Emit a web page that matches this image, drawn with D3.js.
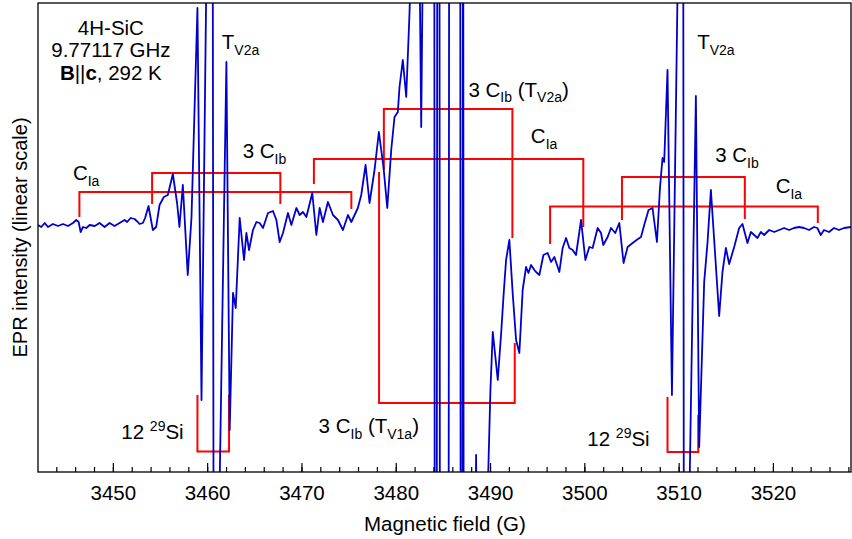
<!DOCTYPE html>
<html>
<head>
<meta charset="utf-8">
<script src="https://cdn.jsdelivr.net/npm/d3@7"></script>
<style>
  html, body { margin: 0; padding: 0; background: #fff; }
  svg { display: block; font-family: "Liberation Sans", Arial, sans-serif; }
</style>
</head>
<body>
<svg id="chart" width="852" height="539"></svg>
<script>
// EPR spectrum, 4H-SiC. Field in gauss, signal in arbitrary units (linear).
// Values beyond +-246 are off scale and get clipped, as in the original.
const spectrum = [
  [3442.06, 1], [3442.41, -1], [3442.77, 3], [3443.12, -1], [3443.65, 2], [3444.18, 0],
  [3444.71, 2], [3445.24, 0], [3445.77, 3], [3446.12, 6], [3446.37, 4], [3446.58, -6],
  [3446.83, -1], [3447.18, -2], [3447.54, 1], [3448.07, 0], [3448.59, 3], [3449.12, -1],
  [3449.65, 3], [3450.18, 0], [3450.71, 3], [3451.24, 6], [3451.51, 4], [3451.88, 8],
  [3452.30, 7], [3452.65, 4], [3452.83, 2], [3453.18, 3], [3453.42, 8], [3453.78, 20],
  [3454.24, -4], [3454.59, -1], [3454.95, 21], [3455.40, 29], [3455.83, 31], [3456.36, 52],
  [3456.81, 23], [3457.06, -1], [3457.42, 41], [3457.94, -49], [3458.34, 9], [3458.69, 126],
  [3458.97, 218], [3459.40, -174], [3459.96, 286], [3460.59, 286], [3460.68, -314], [3461.23, -314],
  [3462.04, 164], [3462.39, -204], [3462.74, -67], [3463.03, -82], [3463.45, 8], [3463.91, -34],
  [3464.16, -7], [3464.44, -24], [3464.86, -4], [3465.22, 4], [3465.57, 3], [3465.92, -2],
  [3466.45, 13], [3466.98, 15], [3467.34, 6], [3467.69, -16], [3468.04, -7], [3468.57, 13],
  [3468.93, 1], [3469.46, 18], [3469.81, 11], [3470.16, 14], [3470.52, 9], [3471.15, 33],
  [3471.58, -9], [3471.93, 18], [3472.28, 4], [3472.81, 24], [3473.34, 11], [3473.87, 6],
  [3474.40, -4], [3474.93, 11], [3475.29, 4], [3475.98, 18], [3476.34, 31], [3476.80, 61],
  [3477.22, 23], [3477.75, 56], [3478.21, 94], [3478.71, 58], [3479.10, 18], [3479.52, 76],
  [3479.87, 109], [3480.22, 114], [3480.40, 139], [3480.75, 166], [3481.11, 129], [3481.46, 213],
  [3481.67, 286], [3482.50, 286], [3482.70, 99], [3482.89, 286],
  [3484.09, 286], [3484.13, -314], [3484.35, -314], [3484.40, 286], [3484.64, 286], [3484.68, -314],
  [3485.61, -314], [3485.66, 286], [3486.84, 286], [3486.88, -314], [3487.08, -314], [3487.12, 286],
  [3487.16, 286], [3487.20, -314], [3488.45, -314], [3488.52, -229], [3488.58, -314], [3489.62, -314],
  [3490.04, -164], [3490.29, -106], [3490.82, -154], [3491.18, -107], [3491.45, -67], [3491.70, -34],
  [3492.05, -14], [3492.40, -67], [3492.76, -114], [3493.11, -127], [3493.46, -64], [3493.82, -41],
  [3494.07, -47], [3494.35, -39], [3494.70, -44], [3494.88, -46], [3495.23, -49], [3495.66, -29],
  [3496.11, -27], [3496.47, -36], [3496.82, -31], [3497.35, -46], [3497.70, -22], [3498.06, -12],
  [3498.41, -22], [3498.76, -24], [3499.12, -29], [3499.65, 6], [3500.11, -34], [3500.53, -21],
  [3500.88, -22], [3501.41, -2], [3501.77, -7], [3502.01, -19], [3502.47, -11], [3502.83, -2],
  [3503.28, -7], [3503.71, 3], [3504.16, -37], [3504.59, -21], [3505.12, -17], [3505.54, -14],
  [3506.01, -11], [3506.35, 1], [3506.81, 16], [3507.23, 18], [3507.70, -16], [3508.02, 38],
  [3508.29, 68], [3508.47, 64], [3508.82, 156], [3509.29, -169], [3509.96, 286], [3510.49, 286],
  [3510.55, -314], [3511.07, -314], [3511.83, 130], [3512.18, -221], [3512.71, -56], [3513.06, -17],
  [3513.42, 36], [3513.77, -14], [3514.30, -90], [3514.65, -46], [3515.01, -22], [3515.36, -38],
  [3515.89, -21], [3516.42, -2], [3516.77, 2], [3517.30, -17], [3517.66, -6], [3518.01, -9],
  [3518.36, -12], [3518.72, -6], [3519.07, -9], [3519.60, -4], [3520.13, -6], [3520.66, -4],
  [3521.18, -2], [3521.71, -4], [3522.24, -2], [3522.77, -1], [3523.30, -2], [3523.83, -4],
  [3524.36, -1], [3524.71, -2], [3525.07, -9], [3525.42, -4], [3525.95, -6], [3526.48, -2],
  [3527.01, -4], [3527.54, -2], [3528.28, -1],
];

// Stick diagrams: two legs joined by a bar. ends = signal level where each leg stops.
const brackets = [
  { x: [3446.45, 3475.29], bar: 34, ends: [9, 17] },       // C_Ia, low field
  { x: [3454.16, 3467.76], bar: 53, ends: [22, 22] },      // 3 C_Ib, low field
  { x: [3471.32, 3499.89], bar: 67, ends: [42, -1] },      // C_Ia, centre
  { x: [3478.74, 3492.37], bar: 117, ends: [56, -12] },    // 3 C_Ib (T_V2a)
  { x: [3478.23, 3492.62], bar: -177, ends: [54, -117] },  // 3 C_Ib (T_V1a)
  { x: [3496.37, 3524.76], bar: 19.5, ends: [-18, 3] },    // C_Ia, high field
  { x: [3503.99, 3517.02], bar: 49, ends: [6, 7] },        // 3 C_Ib, high field
  { x: [3458.97, 3462.32], bar: -225.5, ends: [-169, -169] }, // 12 29Si
  { x: [3508.82, 3512.08], bar: -226, ends: [-171, -189] },   // 12 29Si
];

// Text labels: anchor field, baseline signal, pieces ("sub"/"sup" shrink and shift).
const labels = [
  { x: 3461.55, y: 177, parts: [["T"], ["V2a", "sub"]] },
  { x: 3463.77, y: 68, parts: [["3 C"], ["Ib", "sub"]] },
  { x: 3445.76, y: 46, parts: [["C"], ["Ia", "sub"]] },
  { x: 3487.71, y: 129.5, parts: [["3 C"], ["Ib", "sub"], [" (T"], ["V2a", "sub"], [")"]] },
  { x: 3494.33, y: 83, parts: [["C"], ["Ia", "sub"]] },
  { x: 3511.97, y: 177, parts: [["T"], ["V2a", "sub"]] },
  { x: 3513.88, y: 64, parts: [["3 C"], ["Ib", "sub"]] },
  { x: 3520.29, y: 33, parts: [["C"], ["Ia", "sub"]] },
  { x: 3450.90, y: -213, parts: [["12 "], ["29", "sup"], ["Si"]] },
  { x: 3471.82, y: -207, parts: [["3 C"], ["Ib", "sub"], [" (T"], ["V1a", "sub"], [")"]] },
  { x: 3500.32, y: -220, parts: [["12 "], ["29", "sup"], ["Si"]] },
];

const infoLines = [
  [["4H-SiC"]],
  [["9.77117 GHz"]],
  [["B", "bold"], ["||"], ["c", "bold"], [", 292 K"]],
];
const infoBaselines = [191, 169, 146];
const infoField = 3449.79;

const majorTicks = d3.range(3450, 3521, 10);
const minorTicks = d3.range(3444, 3529, 2);

const W = 852, H = 539;
const margin = { left: 38, right: 1, top: 3, bottom: 67 };
const plotW = W - margin.left - margin.right;
const plotH = H - margin.top - margin.bottom;

const x = d3.scaleLinear().domain([3442.06, 3528.28]).range([0, plotW]);
const y = d3.scaleLinear().domain([-246, 223]).range([plotH, 0]);

const svg = d3.select("#chart");
const g = svg.append("g").attr("transform", `translate(${margin.left},${margin.top})`);

g.append("clipPath").attr("id", "plot-clip")
  .append("rect").attr("width", plotW).attr("height", plotH);

const BIG = 20.5, SMALL = 14;

function writeParts(text, parts) {
  let shift = 0;
  parts.forEach(([t, kind]) => {
    const span = text.append("tspan").text(t);
    let target = 0;
    if (kind === "sub") target = 5.5;
    if (kind === "sup") target = -8.5;
    if (kind === "sub" || kind === "sup") span.attr("font-size", SMALL);
    if (kind === "bold") span.attr("font-weight", "bold");
    if (target !== shift) span.attr("dy", target - shift);
    shift = target;
  });
}

// red stick diagrams
const red = g.append("g").attr("clip-path", "url(#plot-clip)")
  .attr("fill", "none").attr("stroke", "#ff0000").attr("stroke-width", 2);
brackets.forEach((b) => {
  const pts = [[b.x[0], b.ends[0]], [b.x[0], b.bar], [b.x[1], b.bar], [b.x[1], b.ends[1]]];
  red.append("path").attr("d", d3.line().x((d) => x(d[0])).y((d) => y(d[1]))(pts));
});

// spectrum
g.append("path")
  .datum(spectrum)
  .attr("clip-path", "url(#plot-clip)")
  .attr("fill", "none")
  .attr("stroke", "#0000cc")
  .attr("stroke-width", 1.8)
  .attr("stroke-linejoin", "round")
  .attr("d", d3.line().x((d) => x(d[0])).y((d) => y(d[1])));

// labels
labels.forEach((l) => {
  const t = g.append("text").attr("x", x(l.x)).attr("y", y(l.y))
    .attr("font-size", BIG).attr("fill", "#000");
  writeParts(t, l.parts);
});
infoLines.forEach((parts, i) => {
  const t = g.append("text").attr("x", x(infoField)).attr("y", y(infoBaselines[i]))
    .attr("text-anchor", "middle").attr("font-size", BIG).attr("fill", "#000");
  writeParts(t, parts);
});

// frame
g.append("rect").attr("width", plotW).attr("height", plotH)
  .attr("fill", "none").attr("stroke", "#000").attr("stroke-width", 1.3);

// bottom axis, ticks pointing inward
const minorAxis = d3.axisBottom(x).tickValues(minorTicks).tickSize(-5).tickFormat("");
const majorAxis = d3.axisBottom(x).tickValues(majorTicks).tickSize(-9).tickPadding(13)
  .tickFormat(d3.format("d"));
g.append("g").attr("transform", `translate(0,${plotH})`).call(minorAxis)
  .call((a) => a.select(".domain").remove())
  .call((a) => a.selectAll("line").attr("stroke", "#000").attr("stroke-width", 1.2));
g.append("g").attr("transform", `translate(0,${plotH})`).call(majorAxis)
  .call((a) => a.select(".domain").remove())
  .call((a) => a.selectAll("line").attr("stroke", "#000").attr("stroke-width", 1.2))
  .call((a) => a.selectAll("text").attr("font-size", BIG)
    .attr("font-family", "'Liberation Sans', Arial, sans-serif").attr("fill", "#000"));

// axis titles
svg.append("text")
  .attr("x", margin.left + x(3450) + (445 - 113))
  .attr("y", 531)
  .attr("text-anchor", "middle").attr("font-size", BIG)
  .text("Magnetic field (G)");
svg.append("text")
  .attr("transform", `translate(27,${margin.top + plotH / 2}) rotate(-90)`)
  .attr("text-anchor", "middle").attr("font-size", 20)
  .text("EPR intensity (linear scale)");
</script>
</body>
</html>
